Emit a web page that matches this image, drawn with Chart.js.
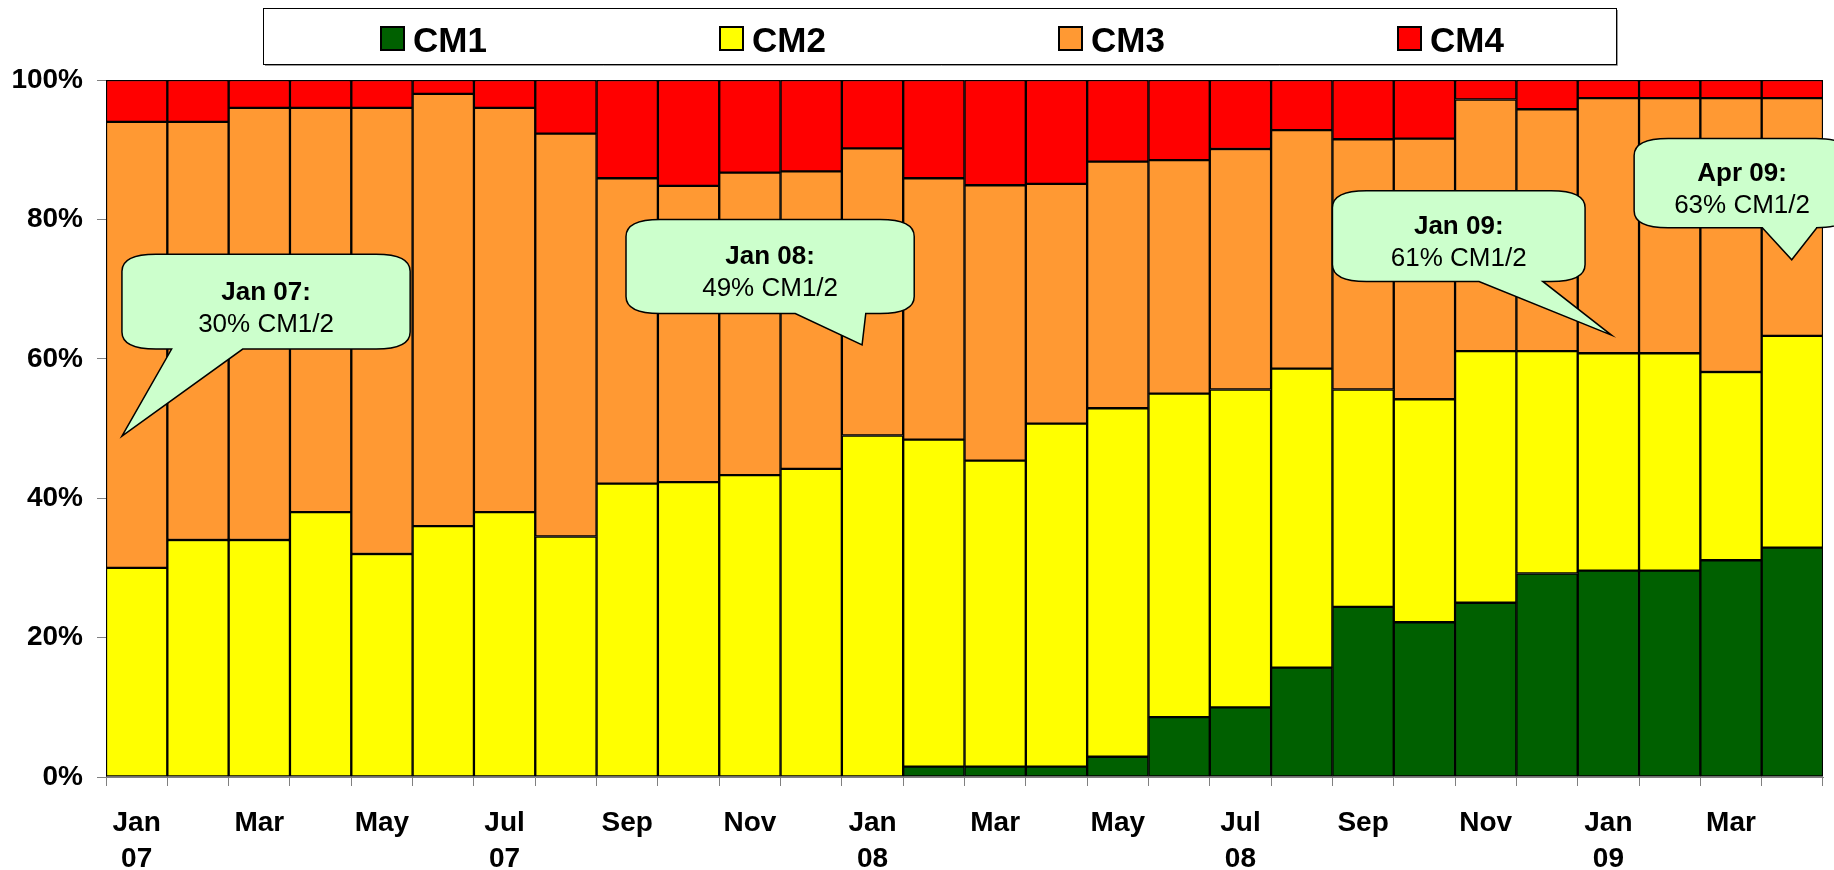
<!DOCTYPE html>
<html>
<head>
<meta charset="utf-8">
<script src="https://cdn.jsdelivr.net/npm/chart.js@4.4.1/dist/chart.umd.min.js"></script>
<style>
  html, body { margin: 0; padding: 0; background: #fff; }
  #wrap { width: 1834px; height: 870px; position: relative; }
</style>
</head>
<body>
<div id="wrap"><canvas id="grafico"></canvas></div>
<script>
// months Jan 07 .. Apr 09
const categories = [
  'Jan 07', 'Feb 07', 'Mar 07', 'Apr 07', 'May 07', 'Jun 07', 'Jul 07', 'Aug 07', 'Sep 07', 'Oct 07', 'Nov 07', 'Dec 07',
  'Jan 08', 'Feb 08', 'Mar 08', 'Apr 08', 'May 08', 'Jun 08', 'Jul 08', 'Aug 08', 'Sep 08', 'Oct 08', 'Nov 08', 'Dec 08',
  'Jan 09', 'Feb 09', 'Mar 09', 'Apr 09'
];
const tickLabels = [
  ['Jan', '07'], '', 'Mar', '', 'May', '', ['Jul', '07'], '', 'Sep', '', 'Nov', '',
  ['Jan', '08'], '', 'Mar', '', 'May', '', ['Jul', '08'], '', 'Sep', '', 'Nov', '',
  ['Jan', '09'], '', 'Mar', ''
];
const yTicks = [0, 20, 40, 60, 80, 100];

const cm1 = [0, 0, 0, 0, 0, 0, 0, 0, 0, 0, 0, 0, 0, 1.5, 1.5, 1.5, 2.9, 8.6, 10.0, 15.7, 24.4, 22.2, 25.0, 29.2, 29.6, 29.6, 31.1, 32.9];
const cm2 = [30, 34, 34, 38, 32, 36, 38, 34.5, 42.1, 42.3, 43.3, 44.2, 49.0, 46.9, 43.9, 49.2, 50.0, 46.4, 45.6, 42.9, 31.2, 32.0, 36.1, 31.9, 31.2, 31.2, 27.0, 30.4];
const cm3 = [64, 60, 62, 58, 64, 62, 58, 57.8, 43.8, 42.5, 43.4, 42.7, 41.2, 37.5, 39.5, 34.4, 35.4, 33.5, 34.5, 34.2, 35.9, 37.4, 36.1, 34.7, 36.6, 36.6, 39.3, 34.1];
const cm4 = [6, 6, 4, 4, 4, 2, 4, 7.7, 14.1, 15.2, 13.3, 13.1, 9.8, 14.1, 15.1, 14.9, 11.7, 11.5, 9.9, 7.2, 8.5, 8.4, 2.8, 4.2, 2.6, 2.6, 2.6, 2.6];

// callout texts
const calloutTitles = ['Jan 07:', 'Jan 08:', 'Jan 09:', 'Apr 09:'];
const calloutTexts = ['30% CM1/2', '49% CM1/2', '61% CM1/2', '63% CM1/2'];

const FONT = '"Liberation Sans", Arial, sans-serif';

// where the callouts sit: x in category widths from the left edge, y in % of the axis
const calloutPlace = [
  { x1: 0.26, x2: 4.96, top: 75.0, bottom: 61.4, b1: 1.07, b2: 2.23, tipX: 0.26, tipY: 48.9 },
  { x1: 8.48, x2: 13.18, top: 80.0, bottom: 66.5, b1: 11.24, b2: 12.39, tipX: 12.33, tipY: 62.0 },
  { x1: 20.0, x2: 24.12, top: 84.1, bottom: 71.1, b1: 22.39, b2: 23.43, tipX: 24.55, tipY: 63.4 },
  { x1: 24.92, x2: 28.44, top: 91.6, bottom: 78.8, b1: 27.01, b2: 27.9, tipX: 27.49, tipY: 74.2 }
];

const calloutPlugin = {
  id: 'callouts',
  afterDatasetsDraw(chart) {
    const ctx = chart.ctx;
    const xs = chart.scales.x;
    const ys = chart.scales.y;
    const step = xs.width / categories.length;
    const px = u => xs.left + u * step;
    const py = v => ys.getPixelForValue(v);
    ctx.save();
    calloutPlace.forEach((c, i) => {
      const l = px(c.x1), r = px(c.x2), t = py(c.top), b = py(c.bottom);
      const rx = 34, ry = 17;
      ctx.beginPath();
      ctx.moveTo(l + rx, t);
      ctx.lineTo(r - rx, t);
      ctx.quadraticCurveTo(r, t, r, t + ry);
      ctx.lineTo(r, b - ry);
      ctx.quadraticCurveTo(r, b, r - rx, b);
      ctx.lineTo(px(c.b2), b);
      ctx.lineTo(px(c.tipX), py(c.tipY));
      ctx.lineTo(px(c.b1), b);
      ctx.lineTo(l + rx, b);
      ctx.quadraticCurveTo(l, b, l, b - ry);
      ctx.lineTo(l, t + ry);
      ctx.quadraticCurveTo(l, t, l + rx, t);
      ctx.closePath();
      ctx.fillStyle = '#CCFFCC';
      ctx.fill();
      ctx.lineWidth = 1.5;
      ctx.strokeStyle = '#000';
      ctx.stroke();

      const cx = (l + r) / 2;
      const cy = (t + b) / 2;
      ctx.fillStyle = '#000';
      ctx.textAlign = 'center';
      ctx.textBaseline = 'alphabetic';
      ctx.font = 'bold 26px ' + FONT;
      ctx.fillText(calloutTitles[i], cx, cy - 2);
      ctx.font = '26px ' + FONT;
      ctx.fillText(calloutTexts[i], cx, cy + 30);
    });
    ctx.restore();
  }
};

// legend drawn in a framed box above the plot
const legendPlugin = {
  id: 'legendBox',
  afterDraw(chart) {
    const ctx = chart.ctx;
    ctx.save();
    ctx.fillStyle = '#fff';
    ctx.fillRect(263.5, 8.5, 1353, 56);
    ctx.strokeStyle = '#000';
    ctx.lineWidth = 1;
    ctx.strokeRect(263.5, 8.5, 1353, 56);
    ctx.strokeStyle = '#999';
    ctx.beginPath();
    ctx.moveTo(265, 65.5);
    ctx.lineTo(1617.5, 65.5);
    ctx.lineTo(1617.5, 10);
    ctx.stroke();
    chart.data.datasets.forEach((ds, i) => {
      const x = 381 + i * 339;
      ctx.fillStyle = ds.backgroundColor;
      ctx.fillRect(x, 27, 23, 23);
      ctx.strokeStyle = '#000';
      ctx.lineWidth = 2;
      ctx.strokeRect(x, 27, 23, 23);
      ctx.fillStyle = '#000';
      ctx.font = 'bold 35px ' + FONT;
      ctx.textAlign = 'left';
      ctx.textBaseline = 'alphabetic';
      ctx.fillText(ds.label, x + 32, 52);
    });
    ctx.restore();
  }
};

const serie = (label, data, color) => ({
  label,
  data,
  backgroundColor: color,
  borderColor: '#000',
  borderWidth: 1.5,
  borderSkipped: false,
  barPercentage: 1,
  categoryPercentage: 1
});

new Chart(document.getElementById('grafico').getContext('2d'), {
  type: 'bar',
  data: {
    labels: categories,
    datasets: [
      serie('CM1', cm1, '#006000'),
      serie('CM2', cm2, '#FFFF00'),
      serie('CM3', cm3, '#FF9933'),
      serie('CM4', cm4, '#FF0000')
    ]
  },
  options: {
    responsive: true,
    maintainAspectRatio: false,
    animation: false,
    layout: { padding: { top: 80, right: 11, left: 0, bottom: 0 } },
    plugins: {
      legend: { display: false },
      title: { display: false },
      tooltip: { enabled: false }
    },
    scales: {
      x: {
        stacked: true,
        afterFit: s => { s.height = 93; },
        grid: { display: true, drawOnChartArea: false, drawTicks: true, tickLength: 9, color: '#808080', offset: true },
        border: { display: true, color: '#808080', width: 1 },
        ticks: {
          autoSkip: false,
          maxRotation: 0,
          minRotation: 0,
          padding: 19,
          color: '#000',
          font: { family: FONT, size: 28, weight: 'bold', lineHeight: 1.3 },
          callback: (v, i) => tickLabels[i]
        }
      },
      y: {
        stacked: true,
        min: 0,
        max: 100,
        afterFit: s => { s.width = 106; },
        afterBuildTicks: s => { s.ticks = yTicks.map(v => ({ value: v })); },
        grid: { display: true, drawOnChartArea: false, drawTicks: true, tickLength: 9, color: '#808080' },
        border: { display: true, color: '#808080', width: 1 },
        ticks: {
          padding: 14,
          color: '#000',
          font: { family: FONT, size: 28, weight: 'bold' },
          callback: v => v + '%'
        }
      }
    }
  },
  plugins: [calloutPlugin, legendPlugin]
});
</script>
</body>
</html>
